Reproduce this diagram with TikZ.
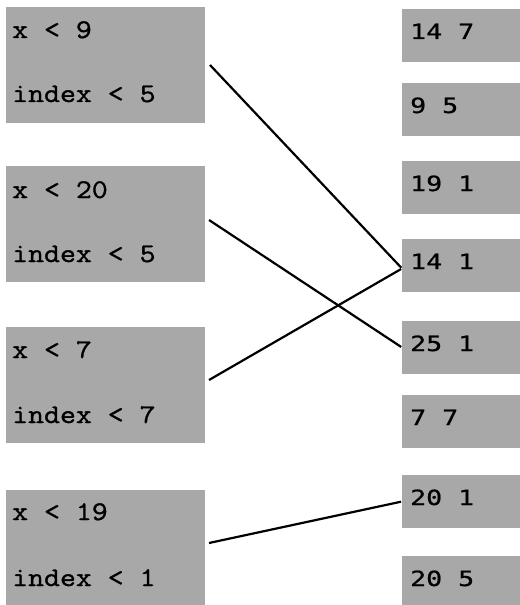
\documentclass[tikz,border=0pt]{standalone}
\usepackage{fontspec}
\newfontfamily\lfont[FakeStretch=1.15,FakeBold=1.2]{Latin Modern Mono}
\newfontfamily\rfont[FakeStretch=1.27,FakeBold=0.8]{DejaVu Sans Mono}
\definecolor{boxgray}{RGB}{168,168,168}
\begin{document}
\begin{tikzpicture}[x=1bp,y=-1bp,
  lbox/.style={fill=boxgray, minimum width=199bp, minimum height=116bp, anchor=north west, inner sep=0pt, outer sep=0pt},
  rbox/.style={fill=boxgray, minimum width=130bp, minimum height=53bp, anchor=north west, inner sep=0pt, outer sep=0pt},
  ltext/.style={anchor=base west, inner sep=0pt, font=\lfont\fontsize{27}{27}\selectfont},
  rtext/.style={anchor=base west, inner sep=0pt, font=\rfont\fontsize{21}{21}\selectfont},
  link/.style={line width=2.2bp, black, shorten >=1bp}]
\useasboundingbox (0,0) rectangle (520,605);
\clip (0,0) rectangle (520,605);
% left boxes
\node[lbox] (L1) at (6,7) {};
\node[ltext] (L1a) at (12,38) {x < 9};
\node[ltext] (L1b) at (12,102) {index < 5};
\node[lbox] (L2) at (6,166) {};
\node[ltext] (L2a) at (12,198) {x < 20};
\node[ltext] (L2b) at (12,262) {index < 5};
\node[lbox] (L3) at (6,327) {};
\node[ltext] (L3a) at (12,358) {x < 7};
\node[ltext] (L3b) at (12,423) {index < 7};
\node[lbox] (L4) at (6,490) {};
\node[ltext] (L4a) at (12,520) {x < 19};
\node[ltext] (L4b) at (12,586) {index < 1};
% right boxes
\node[rbox] (R1) at (402,9) {};
\node[rtext] (R1t) at (410,39) {14 7};
\node[rbox] (R2) at (402,83) {};
\node[rtext] (R2t) at (410,113) {9 5};
\node[rbox] (R3) at (402,161) {};
\node[rtext] (R3t) at (410,191) {19 1};
\node[rbox] (R4) at (402,239) {};
\node[rtext] (R4t) at (410,269) {14 1};
\node[rbox] (R5) at (402,321) {};
\node[rtext] (R5t) at (410,351) {25 1};
\node[rbox] (R6) at (402,395) {};
\node[rtext] (R6t) at (410,425) {7 7};
\node[rbox] (R7) at (402,475) {};
\node[rtext] (R7t) at (410,505) {20 1};
\node[rbox] (R8) at (402,556) {};
\node[rtext] (R8t) at (410,586) {20 5};
% connectors
\draw[link] ([xshift=5bp]L1.east) -- ([yshift=-3bp]R4.west);
\draw[link] ([xshift=4bp,yshift=4bp]L2.east) -- (R5.west);
\draw[link] ([xshift=4bp,yshift=5bp]L3.east) -- ([yshift=-3bp]R4.west);
\draw[link] ([xshift=4bp,yshift=5bp]L4.east) -- (R7.west);
\end{tikzpicture}
\end{document}
